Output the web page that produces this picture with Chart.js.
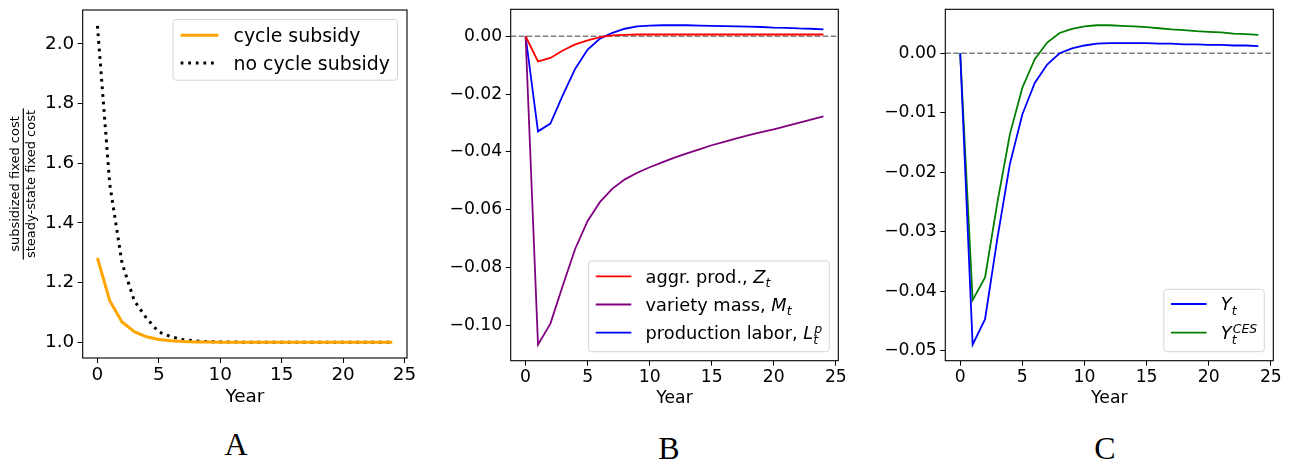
<!DOCTYPE html>
<html>
<head>
<meta charset="utf-8">
<script src="https://cdn.jsdelivr.net/npm/chart.js@4.4.1/dist/chart.umd.min.js"></script>
<style>
html, body { margin: 0; padding: 0; background: #fff; }
body { width: 1295px; height: 464px; overflow: hidden; position: relative; }
canvas { position: absolute; top: -30px; }
.tag { position: absolute; font-family: 'Liberation Serif', serif; font-size: 32px; color: #000;
       transform: translate(-50%, -50%); line-height: 1; }
</style>
</head>
<body>
<canvas id="chartA" width="430" height="450" style="left:0px"></canvas>
<canvas id="chartB" width="430" height="450" style="left:430px"></canvas>
<canvas id="chartC" width="435" height="450" style="left:860px"></canvas>
<div class="tag" style="left:236px;top:444px">A</div>
<div class="tag" style="left:669px;top:448px">B</div>
<div class="tag" style="left:1105px;top:448px">C</div>
<script>
// years after the shock
const years = [0, 1, 2, 3, 4, 5, 6, 7, 8, 9, 10, 11, 12, 13, 14, 15, 16, 17, 18, 19, 20, 21, 22, 23, 24];
const xTicks = [0, 5, 10, 15, 20, 25];

// panel A: subsidized / steady-state fixed cost
const cycleSubsidy = [1.282, 1.139, 1.068, 1.035, 1.018, 1.009, 1.0045, 1.002, 1.001, 1.0005, 1.0, 1.0, 1.0,
  1.0, 1.0, 1.0, 1.0, 1.0, 1.0, 1.0, 1.0, 1.0, 1.0, 1.0, 1.0];
const noCycleSubsidy = [2.06, 1.53, 1.265, 1.139, 1.08, 1.034, 1.018, 1.008, 1.004, 1.002, 1.001, 1.0005, 1.0,
  1.0, 1.0, 1.0, 1.0, 1.0, 1.0, 1.0, 1.0, 1.0, 1.0, 1.0, 1.0];
const yTicksA = [1.0, 1.2, 1.4, 1.6, 1.8, 2.0];

// panel B
const aggrProd = [0, -0.0087, -0.0075, -0.0049, -0.0028, -0.0014, -0.0003, 0.0003, 0.0005, 0.0006, 0.0006,
  0.0006, 0.0006, 0.0006, 0.0006, 0.0006, 0.0006, 0.0006, 0.0006, 0.0006, 0.0006, 0.0006, 0.0006, 0.0006, 0.0006];
const varietyMass = [0, -0.1067, -0.0994, -0.0862, -0.0735, -0.0639, -0.0573, -0.0527, -0.0495, -0.0472, -0.0453,
  -0.0436, -0.0420, -0.0405, -0.0391, -0.0377, -0.0365, -0.0353, -0.0342, -0.0332, -0.0322, -0.0311, -0.0300,
  -0.0288, -0.0277];
const prodLabor = [0, -0.0329, -0.0302, -0.0204, -0.0112, -0.0046, -0.0008, 0.0012, 0.0026, 0.0034, 0.0037,
  0.0038, 0.0038, 0.0038, 0.0037, 0.0036, 0.0035, 0.0034, 0.0033, 0.0032, 0.0030, 0.0029, 0.0027, 0.0026, 0.0024];
const yTicksB = [0, -0.02, -0.04, -0.06, -0.08, -0.10];

// panel C
const outputY = [0, -0.0490, -0.0447, -0.0310, -0.0186, -0.0103, -0.0050, -0.0019, 0.0000, 0.0008, 0.0013,
  0.0016, 0.0017, 0.0017, 0.0017, 0.0017, 0.0016, 0.0016, 0.0015, 0.0015, 0.0014, 0.0014, 0.0013, 0.0013, 0.0012];
const outputCES = [0, -0.0415, -0.0377, -0.0250, -0.0136, -0.0058, -0.0010, 0.0018, 0.0034, 0.0041, 0.0045,
  0.0047, 0.0047, 0.0046, 0.0045, 0.0044, 0.0042, 0.0040, 0.0039, 0.0037, 0.0036, 0.0035, 0.0033, 0.0032, 0.0031];
const yTicksC = [0, -0.01, -0.02, -0.03, -0.04, -0.05];

Chart.defaults.font.family = "'DejaVu Sans', sans-serif";
Chart.defaults.color = '#000';
Chart.defaults.animation = false;

// matplotlib-like "$M_t$" labels: split into plain and math pieces
function richTokens(str) {
  const out = [];
  str.split('$').forEach((part, k) => {
    if (k % 2 === 0) { if (part) out.push({ text: part, math: false }); return; }
    let i = 0;
    while (i < part.length) {
      const tok = { text: part[i++], math: true, sub: '', sup: '' };
      while (part[i] === '_' || part[i] === '^') {
        const kind = part[i++];
        let s;
        if (part[i] === '{') { const j = part.indexOf('}', i); s = part.slice(i + 1, j); i = j + 1; }
        else { s = part[i++]; }
        tok[kind === '_' ? 'sub' : 'sup'] = s;
      }
      out.push(tok);
    }
  });
  return out;
}

function drawRich(ctx, str, x, y, f, measureOnly) {
  const fam = "'DejaVu Sans', sans-serif";
  let cx = x;
  richTokens(str).forEach(t => {
    ctx.font = (t.math ? 'italic ' : '') + f + 'px ' + fam;
    const w = ctx.measureText(t.text).width;
    if (!measureOnly) ctx.fillText(t.text, cx, y);
    cx += w;
    if (t.math && (t.sub || t.sup)) {
      const s = 0.7 * f;
      ctx.font = 'italic ' + s + 'px ' + fam;
      const ws = t.sub ? ctx.measureText(t.sub).width : 0;
      const wp = t.sup ? ctx.measureText(t.sup).width : 0;
      if (!measureOnly) {
        if (t.sub) ctx.fillText(t.sub, cx, y + 0.25 * f);
        if (t.sup) ctx.fillText(t.sup, cx + 0.06 * f, y - 0.36 * f);
      }
      cx += Math.max(ws, wp + 0.06 * f);
    }
  });
  return cx - x;
}

// legend box drawn inside the axes, like matplotlib
const mplLegend = {
  id: 'mplLegend',
  afterDatasetsDraw(chart, args, o) {
    const { ctx, chartArea: a } = chart;
    const f = o.fontSize;
    const items = chart.data.datasets;
    ctx.save();
    const widths = items.map(d => drawRich(ctx, d.label, 0, 0, f, true));
    const pad = 0.4 * f, hl = 2 * f, tp = 0.8 * f;
    const w = pad + hl + tp + Math.max(...widths) + pad;
    const h = o.firstRow + o.rowGap * (items.length - 1) + o.lastRow;
    const right = a.right - o.inset;
    const left = right - w;
    const top = o.corner === 'ur' ? a.top + o.inset : a.bottom - o.inset - h;
    ctx.beginPath();
    ctx.roundRect(left, top, w, h, 3);
    ctx.fillStyle = 'rgba(255,255,255,0.8)';
    ctx.fill();
    ctx.strokeStyle = '#d5d5d5';
    ctx.lineWidth = 1;
    ctx.stroke();
    items.forEach((d, i) => {
      const cy = top + o.firstRow + i * o.rowGap;
      ctx.strokeStyle = d.borderColor;
      ctx.lineWidth = d.borderWidth;
      ctx.lineCap = 'butt';
      ctx.setLineDash(d.borderDash || []);
      ctx.beginPath();
      ctx.moveTo(left + pad, cy);
      ctx.lineTo(left + pad + hl, cy);
      ctx.stroke();
      ctx.setLineDash([]);
      ctx.fillStyle = '#000';
      ctx.textBaseline = 'alphabetic';
      ctx.textAlign = 'left';
      drawRich(ctx, d.label, left + pad + hl + tp, cy + 0.36 * f, f, false);
    });
    ctx.restore();
  }
};

// axes frame on all four sides
const frame = {
  id: 'frame',
  afterDatasetsDraw(chart) {
    const { ctx, chartArea: a } = chart;
    ctx.save();
    ctx.strokeStyle = '#000';
    ctx.lineWidth = 1.1;
    ctx.strokeRect(a.left, a.top, a.right - a.left, a.bottom - a.top);
    ctx.restore();
  }
};

// dashed zero reference line
const zeroLine = {
  id: 'zeroLine',
  beforeDatasetsDraw(chart, args, o) {
    if (!o.show) return;
    const { ctx, chartArea: a, scales } = chart;
    const y = scales.y.getPixelForValue(0);
    ctx.save();
    ctx.strokeStyle = '#808080';
    ctx.lineWidth = 1.5;
    ctx.setLineDash([5.6, 2.4]);
    ctx.beginPath();
    ctx.moveTo(a.left, y);
    ctx.lineTo(a.right, y);
    ctx.stroke();
    ctx.restore();
  }
};

// stacked fraction as the y-axis label of panel A
const fracLabel = {
  id: 'fracLabel',
  afterDraw(chart, args, o) {
    if (!o.num) return;
    const { ctx, chartArea: a } = chart;
    const cy = (a.top + a.bottom) / 2;
    ctx.save();
    ctx.font = o.size + "px 'DejaVu Sans', sans-serif";
    ctx.fillStyle = '#000';
    ctx.textAlign = 'center';
    ctx.textBaseline = 'middle';
    const bar = Math.max(ctx.measureText(o.num).width, ctx.measureText(o.den).width) + 3;
    ctx.translate(a.left - o.offset, cy);
    ctx.rotate(-Math.PI / 2);
    ctx.fillText(o.num, 0, -7.6);
    ctx.fillText(o.den, 0, 8.4);
    ctx.fillRect(-bar / 2, -0.6, bar, 1.2);
    ctx.restore();
  }
};

function pad5(arr) {
  const lo = Math.min(...arr), hi = Math.max(...arr);
  const m = (hi - lo) * 0.05;
  return [lo - m, hi + m];
}

function fmt(v, d) {
  return v.toFixed(d).replace('-', '\u2212');
}

function makePanel(id, cLeft, cWidth, area, yearY, fs, datasets, yTicks, dec, legend, extra) {
  const lh = fs * 1.2;
  const [xmin, xmax] = pad5(years);
  const [ymin, ymax] = pad5(datasets.flatMap(d => d.values));
  return new Chart(document.getElementById(id), {
    type: 'line',
    data: {
      datasets: datasets.map(d => ({
        label: d.label,
        data: years.map((x, i) => ({ x: x, y: d.values[i] })),
        borderColor: d.color,
        borderWidth: d.width,
        borderDash: d.dash,
        borderCapStyle: 'butt',
        pointRadius: 0,
        tension: 0,
        fill: false
      }))
    },
    options: {
      responsive: false,
      layout: {
        padding: { left: 0, top: area.top + 30, right: cLeft + cWidth - area.right, bottom: 420 - yearY - lh / 2 }
      },
      scales: {
        x: {
          type: 'linear', min: xmin, max: xmax,
          afterBuildTicks: s => { s.ticks = xTicks.map(v => ({ value: v })); },
          afterFit: s => { s.height = yearY + lh / 2 - area.bottom; },
          ticks: { font: { size: fs, lineHeight: 1.2 }, padding: 1.5, callback: v => String(v), maxRotation: 0 },
          grid: { drawOnChartArea: false, drawTicks: true, tickLength: 5, color: '#000', lineWidth: 1 },
          border: { display: false },
          title: { display: true, text: 'Year', font: { size: fs, lineHeight: 1.2 }, padding: 0 }
        },
        y: {
          type: 'linear', min: ymin, max: ymax,
          afterBuildTicks: s => { s.ticks = yTicks.map(v => ({ value: v })); },
          afterFit: s => { s.width = area.left - cLeft; },
          ticks: { font: { size: fs }, padding: 3.5, callback: v => fmt(v, dec) },
          grid: { drawOnChartArea: false, drawTicks: true, tickLength: 5, color: '#000', lineWidth: 1 },
          border: { display: false }
        }
      },
      plugins: {
        legend: { display: false },
        tooltip: { enabled: false },
        mplLegend: legend,
        zeroLine: { show: !!extra.zero },
        fracLabel: extra.frac || {}
      }
    },
    plugins: [zeroLine, frame, mplLegend, fracLabel]
  });
}

makePanel('chartA', 0, 430, { left: 82.7, top: 10, right: 407, bottom: 358 }, 397, 18.4, [
  { label: 'cycle subsidy', values: cycleSubsidy, color: '#FFA500', width: 3 },
  { label: 'no cycle subsidy', values: noCycleSubsidy, color: '#000000', width: 3, dash: [2.8, 4.8] }
], yTicksA, 1,
  { corner: 'ur', inset: 9.5, fontSize: 18.9, rowGap: 27.7, firstRow: 15.7, lastRow: 17.3 },
  { frac: { num: 'subsidized fixed cost', den: 'steady-state fixed cost', size: 13, offset: 59.4 } });

makePanel('chartB', 430, 430, { left: 510.7, top: 9.3, right: 838.3, bottom: 360.7 }, 398.3, 17.2, [
  { label: 'aggr. prod., $Z_t$', values: aggrProd, color: '#FF0000', width: 1.8 },
  { label: 'variety mass, $M_t$', values: varietyMass, color: '#800080', width: 1.8 },
  { label: 'production labor, $L_t^p$', values: prodLabor, color: '#0000FF', width: 1.8 }
], yTicksB, 2,
  { corner: 'lr', inset: 9, fontSize: 17.8, rowGap: 28.2, firstRow: 15.3, lastRow: 19 },
  { zero: true });

makePanel('chartC', 860, 435, { left: 945.3, top: 9.3, right: 1273.3, bottom: 360.7 }, 398.3, 17.2, [
  { label: '$Y_t$', values: outputY, color: '#0000FF', width: 1.8 },
  { label: '$Y_t^{CES}$', values: outputCES, color: '#008000', width: 1.8 }
], yTicksC, 2,
  { corner: 'lr', inset: 9, fontSize: 17.8, rowGap: 28.7, firstRow: 14.7, lastRow: 19 },
  { zero: true });
</script>
</body>
</html>
